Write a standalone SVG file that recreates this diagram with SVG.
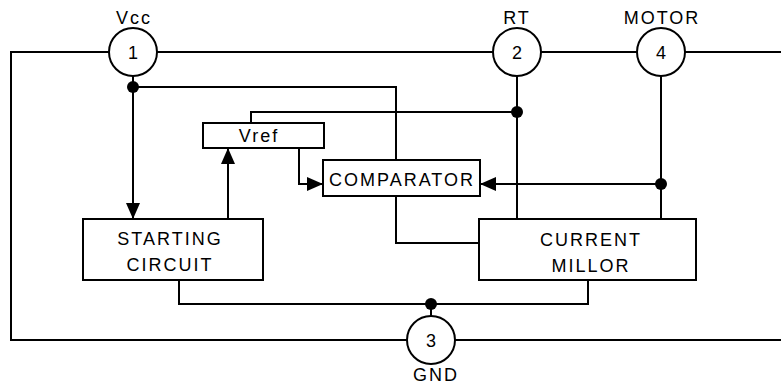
<svg xmlns="http://www.w3.org/2000/svg" width="781" height="385" viewBox="0 0 781 385">
<style>
.w{fill:none;stroke:#000;stroke-width:2}
.b{fill:#fff;stroke:#000;stroke-width:2}
.d{fill:#000}
.t{font-family:"Liberation Sans",Arial,sans-serif;font-size:18px;letter-spacing:2px;text-anchor:middle;fill:#000}
.n{font-family:"Liberation Sans",Arial,sans-serif;font-size:18px;text-anchor:middle;fill:#000}
</style>
<defs>
<marker id="ar" markerUnits="userSpaceOnUse" markerWidth="16" markerHeight="14" refX="16" refY="7" orient="auto">
<path d="M0,0 L16,7 L0,14 z" fill="#000"/>
</marker>
</defs>
<rect width="781" height="385" fill="#fff"/>
<g id="connectors">
<path class="w" d="M781,52 H11 V340 H781"/>
<path class="w" d="M133,76 V219" marker-end="url(#ar)"/>
<path class="w" d="M133,87 H396 V243 H479"/>
<path class="w" d="M251,123 V112 H517"/>
<path class="w" d="M517,76 V219"/>
<path class="w" d="M661,76 V219"/>
<path class="w" d="M661,184 H480" marker-end="url(#ar)"/>
<path class="w" d="M299,148 V184 H323" marker-end="url(#ar)"/>
<path class="w" d="M228,219 V148" marker-end="url(#ar)"/>
<path class="w" d="M179,280 V304 H588 V280"/>
<path class="w" d="M431,304 V316"/>
<circle class="d" cx="133" cy="87" r="6"/>
<circle class="d" cx="517" cy="112" r="6"/>
<circle class="d" cx="661" cy="184" r="6"/>
<circle class="d" cx="431" cy="304" r="6"/>
</g>
<g id="pin1">
<circle class="b" cx="133" cy="52" r="24"/>
<text class="n" x="133" y="59">1</text>
<text class="t" x="134" y="24">Vcc</text>
</g>
<g id="pin2">
<circle class="b" cx="517" cy="52" r="24"/>
<text class="n" x="517" y="59">2</text>
<text class="t" x="517" y="24">RT</text>
</g>
<g id="pin4">
<circle class="b" cx="661" cy="52" r="24"/>
<text class="n" x="661" y="59">4</text>
<text class="t" x="662" y="24">MOTOR</text>
</g>
<g id="pin3">
<circle class="b" cx="431" cy="340" r="24"/>
<text class="n" x="431" y="347">3</text>
<text class="t" x="436" y="381">GND</text>
</g>
<g id="vref">
<rect class="b" x="203" y="123" width="121" height="25"/>
<text class="t" x="259" y="142">Vref</text>
</g>
<g id="comparator">
<rect class="b" x="323" y="160" width="157" height="36"/>
<text class="t" x="402" y="186">COMPARATOR</text>
</g>
<g id="starting">
<rect class="b" x="83" y="219" width="180" height="61"/>
<text class="t" x="170" y="245">STARTING</text>
<text class="t" x="170" y="271">CIRCUIT</text>
</g>
<g id="millor">
<rect class="b" x="479" y="219" width="217" height="61"/>
<text class="t" x="591" y="246">CURRENT</text>
<text class="t" x="591" y="272">MILLOR</text>
</g>
</svg>
